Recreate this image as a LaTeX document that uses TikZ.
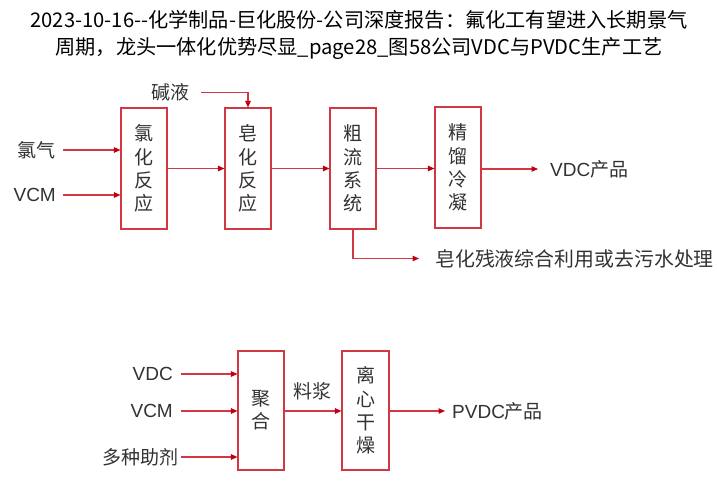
\documentclass[tikz,border=0pt]{standalone}
\usepackage{fontspec}
\setmainfont{Liberation Sans}
\newfontfamily\cjk{Noto Sans CJK SC}
\usetikzlibrary{arrows.meta}
\definecolor{linered}{RGB}{208,56,68}
\definecolor{tipred}{RGB}{192,0,16}
\definecolor{labelgray}{RGB}{50,50,50}
\tikzset{
  flow/.style={draw=linered, line width=1.1pt,
    -{Triangle[length=6.5pt,width=5.5pt,color=tipred]}},
  procbox/.style={draw=linered, line width=1.1pt, fill=white,
    minimum width=46pt, minimum height=121pt, inner sep=0pt,
    align=center, text=labelgray,
    font=\cjk\fontsize{19}{23.3}\selectfont},
  lbl/.style={inner sep=0pt, text=labelgray,
    font=\fontsize{19}{23}\selectfont},
  ttl/.style={inner sep=0pt, text=black, align=center,
    font=\cjk\fontsize{20.2}{26.5}\selectfont},
}
\begin{document}
\begin{tikzpicture}[x=1pt,y=-1pt]
\useasboundingbox (0,0) rectangle (717,480);

% heading
\node[ttl] (title) at (359,35) {2023-10-16--化学制品-巨化股份-公司深度报告：氟化工有望进入长期景气\\周期，龙头一体化优势尽显\_page28\_图58公司VDC与PVDC生产工艺};

% ---------- VDC process ----------
\node[procbox] (b1) at (144,168.5) {氯\\化\\反\\应};
\node[procbox] (b2) at (248,168.5) {皂\\化\\反\\应};
\node[procbox] (b3) at (353,168.5) {粗\\流\\系\\统};
\node[procbox] (b4) at (458,167.5) {精\\馏\\冷\\凝};

\node[lbl, anchor=east] (cl) at (56,150) {\cjk 氯气};
\node[lbl, anchor=east] (vcm1) at (56,195) {VCM};
\node[lbl, anchor=east] (jy) at (190,92.5) {\cjk 碱液};
\node[lbl, anchor=west] (vdc) at (550,169) {VDC\cjk 产品};
\node[lbl, anchor=west, font=\cjk\fontsize{19.9}{23}\selectfont] (waste) at (435,258.5) {皂化残液综合利用或去污水处理};

\draw[flow, shorten <=7pt] (cl.east) -- (cl.east -| b1.west);
\draw[flow, shorten <=7pt] (vcm1.east) -- (vcm1.east -| b1.west);
\draw[flow] (b1.east) -- (b2.west);
\draw[flow, shorten <=11pt] (jy.east) -- (jy.east -| b2.north) -- (b2.north);
\draw[flow] (b2.east) -- (b3.west);
\draw[flow] (b3.east) -- (b3.east -| b4.west);
\draw[flow, shorten >=12pt] (b4.east |- vdc.west) -- (vdc.west);
\draw[flow, shorten >=16pt] (b3.south) |- (waste.west);

% ---------- PVDC process ----------
\node[procbox, minimum width=46pt, minimum height=119pt] (p1) at (261,410.5) {聚\\合};
\node[procbox, minimum width=47pt, minimum height=119pt] (p2) at (365.5,410.5) {离\\心\\干\\燥};

\node[lbl, anchor=east] (vdc2) at (173,374) {VDC};
\node[lbl, anchor=east] (vcm2) at (173,411) {VCM};
\node[lbl, anchor=east] (aux) at (179,457) {\cjk 多种助剂};
\node[lbl] (slurry) at (312.5,391.5) {\cjk 料浆};
\node[lbl, anchor=west] (pvdc) at (452,411) {PVDC\cjk 产品};

\draw[flow, shorten <=8pt] (vdc2.east) -- (vdc2.east -| p1.west);
\draw[flow, shorten <=8pt] (vcm2.east) -- (vcm2.east -| p1.west);
\draw[flow, shorten <=2pt] (aux.east) -- (aux.east -| p1.west);
\draw[flow] (p1.east |- vcm2.east) -- (p2.west |- vcm2.east);
\draw[flow, shorten >=7pt] (p2.east |- pvdc.west) -- (pvdc.west);
\end{tikzpicture}
\end{document}
